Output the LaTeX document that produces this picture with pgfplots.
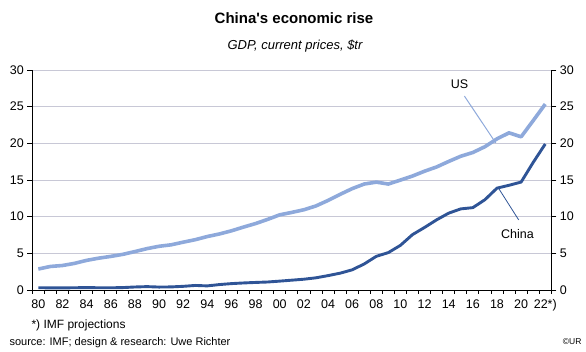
\documentclass[border=0pt]{standalone}
\usepackage{pgfplots}
\pgfplotsset{compat=1.18}
\usepackage{fontspec}
\setmainfont{Liberation Sans}
\definecolor{usc}{RGB}{142,169,219}
\definecolor{cnc}{RGB}{47,84,150}
\definecolor{gridc}{RGB}{200,200,214}
\pgfplotstableread{
year us china
1980 2.86 0.31
1981 3.21 0.29
1982 3.34 0.28
1983 3.63 0.31
1984 4.04 0.32
1985 4.34 0.31
1986 4.58 0.30
1987 4.86 0.33
1988 5.24 0.41
1989 5.64 0.46
1990 5.96 0.40
1991 6.16 0.42
1992 6.52 0.50
1993 6.86 0.62
1994 7.29 0.56
1995 7.64 0.74
1996 8.07 0.87
1997 8.58 0.96
1998 9.06 1.03
1999 9.63 1.09
2000 10.25 1.21
2001 10.58 1.34
2002 10.94 1.47
2003 11.46 1.66
2004 12.21 1.96
2005 13.04 2.29
2006 13.82 2.75
2007 14.45 3.55
2008 14.71 4.59
2009 14.45 5.10
2010 14.99 6.09
2011 15.54 7.55
2012 16.20 8.53
2013 16.78 9.57
2014 17.53 10.48
2015 18.24 11.06
2016 18.75 11.23
2017 19.54 12.31
2018 20.61 13.89
2019 21.43 14.28
2020 20.89 14.72
2021 23.10 17.40
2022 25.35 19.91
}\gdp
\begin{document}
\begin{tikzpicture}[x=1pt,y=1pt]
\path[use as bounding box] (0,0) rectangle (586,352);
\node at (294,334) {\fontsize{15}{17}\selectfont\bfseries China\textquotesingle s economic rise};
\node at (295,306) {\fontsize{13}{15}\selectfont\itshape GDP, current prices, \$tr};
\begin{axis}[
  at={(32.3pt,62pt)}, anchor=south west, scale only axis,
  width=519pt, height=220pt,
  xmin=1979.5, xmax=2022.5, ymin=0, ymax=30,
  axis x line*=bottom, axis y line*=left,
  axis line style={black, line width=0.9pt},
  ytick={0,5,...,30},
  ymajorgrids, grid style={gridc, line width=0.9pt},
  xtick={1980,1982,...,2022},
  xticklabels={80,82,84,86,88,90,92,94,96,98,00,02,04,06,08,10,12,14,16,18,20,22*)},
  major x tick style={draw=none},
  minor xtick={1979.5,1980.5,...,2022.5},
  minor x tick style={black, line width=0.8pt},
  minor tick length=4pt,
  major tick length=5pt,
  y tick style={black, line width=0.9pt},
  tick align=outside,
  /pgf/number format/assume math mode=true,
  ticklabel style={font=\fontsize{12.5}{14}\selectfont},
  xticklabel style={yshift=-1pt},
  clip=false,
]
\addplot[usc, line width=3.6pt, line join=round] table[x=year,y=us]{\gdp};
\addplot[cnc, line width=2.9pt, line join=round] table[x=year,y=china]{\gdp};
\draw[usc, line width=1pt] (axis cs:2015.3,26.45) -- (axis cs:2017.9,20.05);
\draw[cnc, line width=0.8pt] (axis cs:2018.17,13.77) -- (axis cs:2019.8,9.55);
\node[font=\fontsize{12.5}{14}\selectfont] at (axis cs:2014.9,28.1) {US};
\node[font=\fontsize{12.5}{14}\selectfont] at (axis cs:2019.7,7.6) {China};
\end{axis}
\begin{axis}[
  at={(32.3pt,62pt)}, anchor=south west, scale only axis,
  width=519pt, height=220pt,
  xmin=1979.5, xmax=2022.5, ymin=0, ymax=30,
  axis x line=none, axis y line*=right,
  axis line style={black, line width=0.9pt},
  ytick={0,5,...,30},
  major tick length=5pt,
  y tick style={black, line width=0.9pt},
  tick align=outside,
  /pgf/number format/assume math mode=true,
  ticklabel style={font=\fontsize{12.5}{14}\selectfont},
]
\addplot[draw=none] coordinates {(1980,0)};
\end{axis}
\node[anchor=west, font=\fontsize{12}{14}\selectfont] at (28,27) {*) IMF projections};
\node[anchor=west, font=\fontsize{11}{13}\selectfont] at (6,9) {source: IMF; design \& research: Uwe Richter};
\node[anchor=east, font=\fontsize{8.5}{10}\selectfont] at (585,10) {\textcopyright UR};
\end{tikzpicture}
\end{document}
